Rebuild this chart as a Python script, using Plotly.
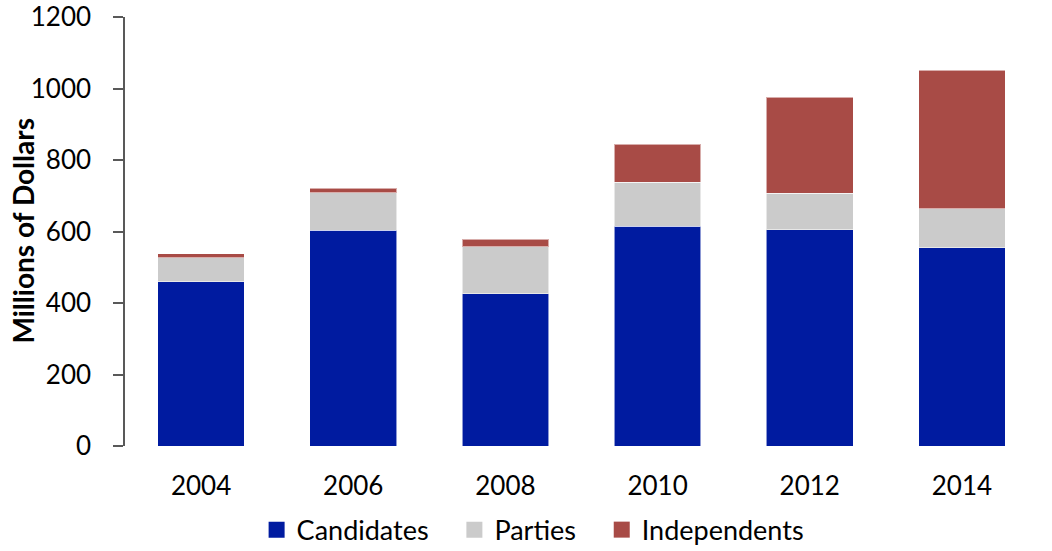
import plotly.graph_objects as go

# Election-cycle spending, millions of dollars
years = ["2004", "2006", "2008", "2010", "2012", "2014"]
candidates = [459, 603, 426, 615, 605, 554]
parties = [67, 105, 131, 123, 102, 109]
independents = [12, 13, 21, 106, 268, 388]

y_ticks = [0, 200, 400, 600, 800, 1000, 1200]

series = [
    ("Candidates", candidates, "#001BA0"),
    ("Parties", parties, "#CBCBCB"),
    ("Independents", independents, "#A84B46"),
]

FONT = "Lato"
PAD = "\u00a0\u00a0\u00a0"  # extra room between legend entries

fig = go.Figure()

for name, values, color in series:
    fig.add_trace(go.Bar(
        x=years, y=values, name=name,
        marker=dict(color=color, line=dict(color="rgba(255,255,255,0.55)", width=1)),
        showlegend=False,
    ))

# legend entries with larger square swatches
for i, (name, values, color) in enumerate(series):
    label = name + (PAD if i < len(series) - 1 else "")
    fig.add_trace(go.Scatter(
        x=[None], y=[None], name=label, mode="markers",
        marker=dict(symbol="square", size=16, color=color),
        showlegend=True,
    ))

fig.update_layout(
    barmode="stack",
    bargap=0.43,
    width=1052, height=551,
    margin=dict(l=125, r=14, t=17, b=105, autoexpand=False),
    plot_bgcolor="white",
    paper_bgcolor="white",
    font=dict(family=FONT, size=26, color="#000000"),
    legend=dict(
        orientation="h",
        traceorder="normal",
        x=0.447, xanchor="center",
        y=-0.196, yanchor="middle",
        font=dict(family=FONT, size=27, color="#000000"),
        itemwidth=30,
        bgcolor="rgba(0,0,0,0)",
    ),
    annotations=[dict(
        text="<b>Millions of Dollars</b>",
        xref="paper", yref="paper",
        x=-0.1128, y=0.5,
        xanchor="center", yanchor="middle",
        textangle=-90,
        showarrow=False,
        font=dict(family=FONT, size=28, color="#000000"),
    )],
)

fig.update_yaxes(
    automargin=False,
    range=[0, 1200],
    tickvals=y_ticks,
    ticktext=[str(v) for v in y_ticks],
    showgrid=False,
    zeroline=False,
    showline=True,
    linecolor="#595959",
    linewidth=1.5,
    ticks="outside",
    ticklen=10,
    tickwidth=1.5,
    tickcolor="#595959",
    ticklabelstandoff=17,
    tickfont=dict(family=FONT, size=26),
)

fig.update_xaxes(
    automargin=False,
    showgrid=False,
    zeroline=False,
    showline=False,
    ticks="",
    ticklabelstandoff=22,
    tickfont=dict(family=FONT, size=26),
)

fig.write_html("out.html")
